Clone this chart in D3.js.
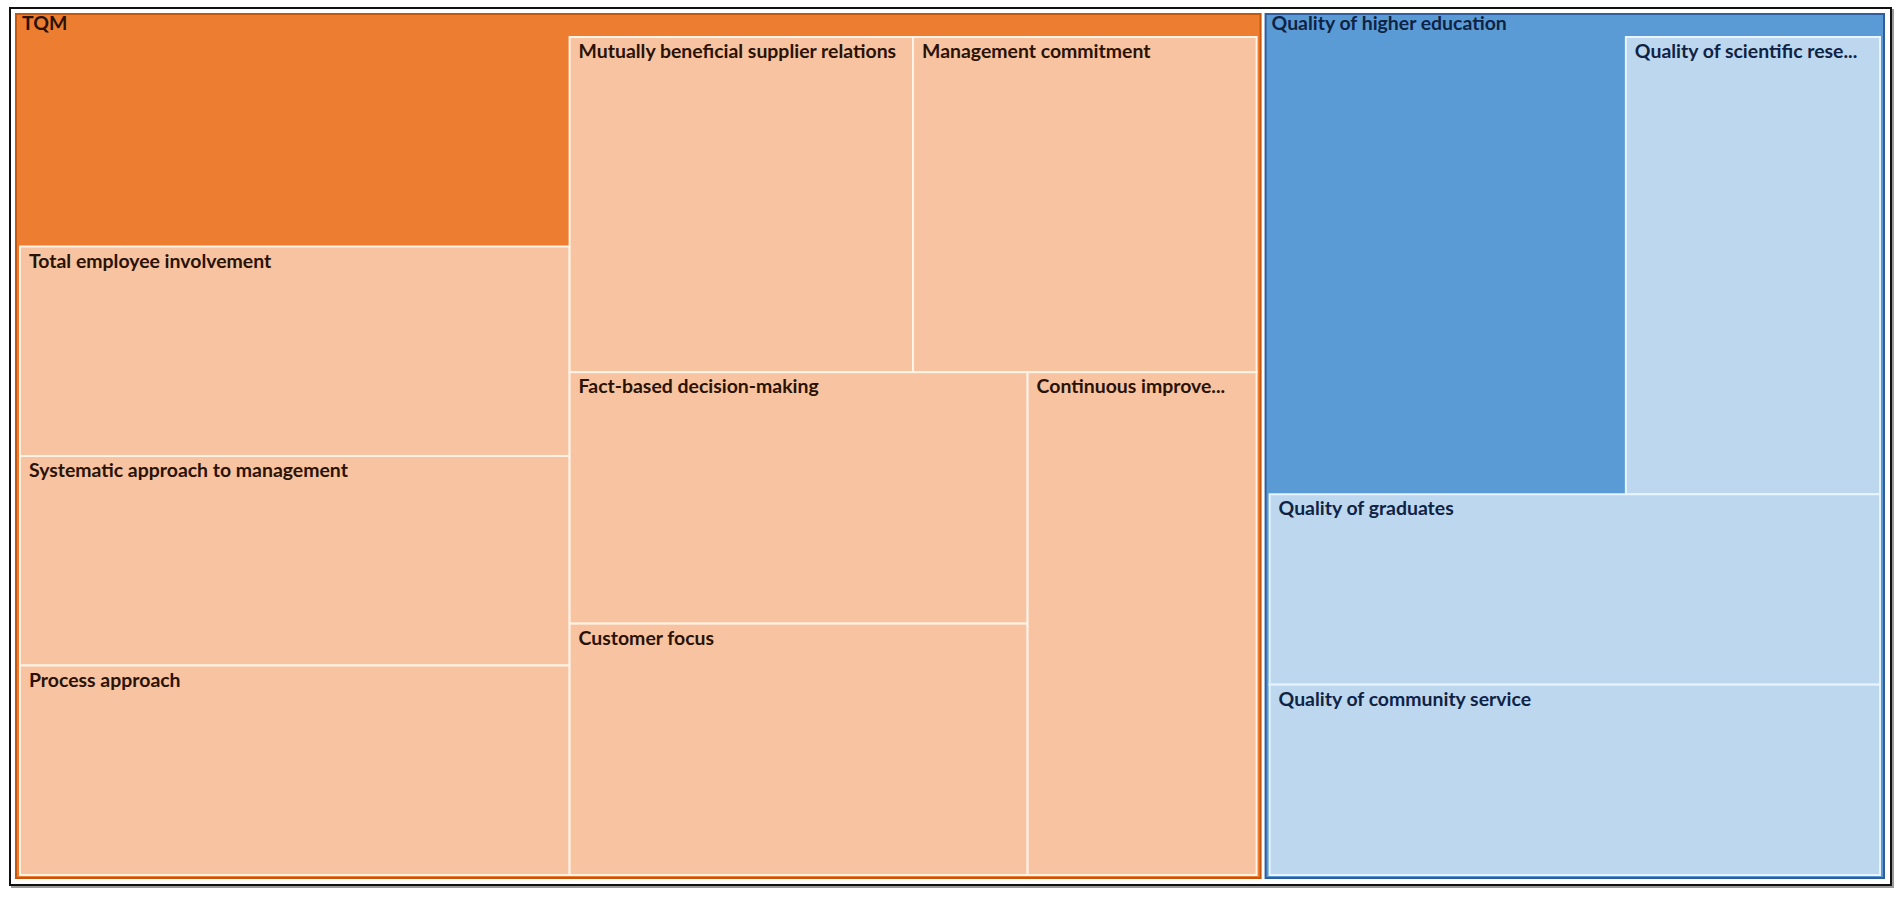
<!DOCTYPE html>
<html>
<head>
<meta charset="utf-8">
<script src="https://cdn.jsdelivr.net/npm/d3@7"></script>
<style>
  body { margin: 0; background: #ffffff; }
  svg { display: block; }
  text { font-family: Lato, "Open Sans", sans-serif; font-weight: 700; }
</style>
</head>
<body>
<div id="chart"></div>
<script>
// Data - groups and their factors (weights)
const groups = ["TQM", "Quality of higher education"]
const groupOwnValues = [1, 1.43]

const tqmFactors = [
  "Total employee involvement",
  "Systematic approach to management",
  "Process approach",
  "Mutually beneficial supplier relations",
  "Management commitment",
  "Fact-based decision-making",
  "Customer focus",
  "Continuous improvement"
]
const tqmValues = [1, 1, 1, 1, 1, 1, 1, 1]

const qheFactors = [
  "Quality of scientific research",
  "Quality of graduates",
  "Quality of community service"
]
const qheValues = [1.02, 1.02, 1.02]

// how many tiles go in each row of the layout, per parent
const rowCounts = {
  root: [1, 1],
  "TQM": [4, 2, 2, 1],
  "Quality of higher education": [2, 2]
}

const darkColors = ["#ED7D31", "#5B9BD5"]
const edgeColors = ["#C4560E", "#2F5D9E"]
const lightColors = ["#F7C3A1", "#BDD7EE"]
const lineColors = ["#FFF3E6", "#E8F4FF"]
const textColors = ["#2a1205", "#0f2345"]

const width = 1902
const height = 897
const labelScale = 1.08

// build hierarchy: the group's own value is an unlabeled tile shown as the parent colour
const allFactors = [tqmFactors, qheFactors]
const allValues = [tqmValues, qheValues]
const treeData = {
  name: "root",
  children: groups.map((g, i) => ({
    name: g,
    group: i,
    children: [{ name: g, own: true, group: i, value: groupOwnValues[i] }]
      .concat(allFactors[i].map((f, j) => ({ name: f, group: i, value: allValues[i][j] })))
  }))
}

// squarify-like tiling with fixed row sizes
function rowTile(parent, x0, y0, x1, y1) {
  let nodes = parent.children
  let value = parent.value
  let i0 = 0
  rowCounts[parent.data.name].forEach(k => {
    let kids = nodes.slice(i0, i0 + k)
    let row = { children: kids, value: d3.sum(kids, d => d.value) }
    let dx = x1 - x0, dy = y1 - y0
    if (dx < dy) {
      d3.treemapDice(row, x0, y0, x1, y0 += dy * row.value / value)
    } else {
      d3.treemapSlice(row, x0, y0, x0 += dx * row.value / value, y1)
    }
    value -= row.value
    i0 += k
  })
}

let root = d3.hierarchy(treeData).sum(d => d.children ? 0 : d.value)

d3.treemap()
  .tile(rowTile)
  .size([1870, 866])
  .paddingInner(d => d.depth === 0 ? 3 : 0)
  .paddingTop(d => d.depth === 1 ? 24 : 0)
  .paddingLeft(d => d.depth === 1 ? 5 : 0)
  .paddingRight(d => d.depth === 1 ? 5 : 0)
  .paddingBottom(d => d.depth === 1 ? 4 : 0)
  (root)

let svg = d3.select('#chart')
  .append('svg')
  .attr('width', width)
  .attr('height', height)

// outer frame with a light shadow
svg.append('rect')
  .attr('x', 12).attr('y', 10)
  .attr('width', 1881).attr('height', 877)
  .attr('fill', 'none')
  .attr('stroke', '#9a9a9a')
  .attr('stroke-width', 2)

svg.append('rect')
  .attr('x', 10).attr('y', 8)
  .attr('width', 1881).attr('height', 877)
  .attr('fill', '#ffffff')
  .attr('stroke', '#111111')
  .attr('stroke-width', 2)

let g = svg.append('g').attr('transform', 'translate(15,13)')

// parent tiles
let parents = root.children
g.selectAll('rect.parent')
  .data(parents)
  .join('rect')
  .attr('class', 'parent')
  .attr('x', d => d.x0 + 1)
  .attr('y', d => d.y0 + 1)
  .attr('width', d => d.x1 - d.x0 - 2)
  .attr('height', d => d.y1 - d.y0 - 2)
  .attr('fill', d => darkColors[d.data.group])
  .attr('stroke', d => edgeColors[d.data.group])
  .attr('stroke-width', 2)

// child tiles (not the group's own tile)
let leaves = root.leaves().filter(d => !d.data.own)
g.selectAll('rect.leaf')
  .data(leaves)
  .join('rect')
  .attr('class', 'leaf')
  .attr('x', d => d.x0)
  .attr('y', d => d.y0)
  .attr('width', d => d.x1 - d.x0)
  .attr('height', d => d.y1 - d.y0)
  .attr('fill', d => lightColors[d.data.group])
  .attr('stroke', d => lineColors[d.data.group])
  .attr('stroke-width', 2)

// shorten a label with "..." until it fits
function fitText(node, maxW) {
  let t = d3.select(node)
  let full = t.text()
  if (node.getComputedTextLength() * labelScale <= maxW) return
  let n = full.length
  while (n > 1) {
    n--
    t.text(full.slice(0, n).trimEnd() + '...')
    if (node.getComputedTextLength() * labelScale <= maxW) break
  }
}

g.selectAll('text.parent')
  .data(parents)
  .join('text')
  .attr('class', 'parent')
  .attr('transform', d => `translate(${d.x0 + 7},${d.y0 + 17}) scale(${labelScale},1)`)
  .attr('font-size', 18)
  .attr('fill', d => textColors[d.data.group])
  .text(d => d.data.name)

g.selectAll('text.leaf')
  .data(leaves)
  .join('text')
  .attr('class', 'leaf')
  .attr('transform', d => `translate(${d.x0 + 9},${d.y0 + 21}) scale(${labelScale},1)`)
  .attr('font-size', 18)
  .attr('fill', d => textColors[d.data.group])
  .text(d => d.data.name)
  .each(function (d) { fitText(this, d.x1 - d.x0 - 25.5) })
</script>
</body>
</html>
